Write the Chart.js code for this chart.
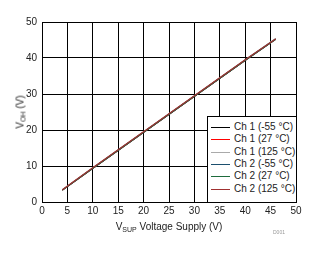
<!DOCTYPE html>
<html>
<head>
<meta charset="utf-8">
<script src="https://cdn.jsdelivr.net/npm/chart.js@4/dist/chart.umd.min.js"></script>
<style>
  body { margin: 0; background: #fff; font-family: "Liberation Sans", Arial, sans-serif; }
  #wrap { position: relative; width: 329px; height: 254px; }
  canvas { position: absolute; left: 0; top: 0; }
  .ttl { position: absolute; font-size: 10px; color: #222; white-space: nowrap; }
  .ttl sub { font-size: 7px; vertical-align: -2px; line-height: 0; }
  #ytitle { left: 20px; top: 112px; transform: translate(-50%, -50%) rotate(-90deg); }
  #xtitle { left: 169px; top: 221px; transform: translateX(-50%); }
  #code { position: absolute; left: 273px; top: 229px; font-size: 5px; color: #999; }
  #legend { position: absolute; left: 207px; top: 116px; width: 88px; height: 85px;
            border: 1px solid #000; background: #fff; font-size: 10px; color: #222; }
  .item { position: absolute; left: 3px; height: 12px; line-height: 12px; }
  .item i { display: block; position: absolute; left: 0; top: 6px; width: 19px; height: 1px; }
  .item span { position: absolute; left: 23px; white-space: nowrap; }
</style>
</head>
<body>
<div id="wrap">
  <canvas id="chart" width="329" height="254"></canvas>
  <div class="ttl" id="ytitle">V<sub>OH</sub> (V)</div>
  <div class="ttl" id="xtitle">V<sub>SUP</sub> Voltage Supply (V)</div>
  <div id="code">D001</div>
  <div id="legend"></div>
</div>
<script>
const supply = [4, 10, 15, 20, 25, 30, 35, 40, 46];

const seriesNames = ['Ch 1 (-55 °C)', 'Ch 1 (27 °C)', 'Ch 1 (125 °C)', 'Ch 2 (-55 °C)', 'Ch 2 (27 °C)', 'Ch 2 (125 °C)'];
const seriesColors = ['#000000', '#ff0000', '#aaaaaa', '#1c4f6e', '#1e6b3c', '#a03030'];

const ch1Cold = [3.3, 9.4, 14.4, 19.4, 24.4, 29.4, 34.4, 39.4, 45.3];
const ch1Room = [3.3, 9.4, 14.4, 19.4, 24.4, 29.4, 34.4, 39.4, 45.3];
const ch1Hot  = [3.4, 9.5, 14.5, 19.5, 24.5, 29.5, 34.5, 39.5, 45.4];
const ch2Cold = [3.3, 9.4, 14.4, 19.4, 24.4, 29.4, 34.4, 39.4, 45.2];
const ch2Room = [3.3, 9.4, 14.4, 19.4, 24.4, 29.4, 34.4, 39.4, 45.2];
const ch2Hot  = [3.4, 9.5, 14.5, 19.5, 24.5, 29.5, 34.5, 39.5, 45.3];

const allSeries = [ch1Cold, ch1Room, ch1Hot, ch2Cold, ch2Room, ch2Hot];

const datasets = allSeries.map((vals, i) => ({
    label: seriesNames[i],
    data: vals.map((v, j) => ({ x: supply[j], y: v })),
    borderColor: seriesColors[i],
    borderWidth: 1.2,
    pointRadius: 0,
    fill: false,
    order: allSeries.length - i   // later series drawn on top
}));

const tickFont = { family: '"Liberation Sans", Arial, sans-serif', size: 10 };

new Chart(document.getElementById('chart'), {
    type: 'line',
    data: { datasets: datasets },
    options: {
        responsive: false,
        animation: false,
        layout: { padding: { top: 22, right: 33, left: 0, bottom: 0 } },
        plugins: { legend: { display: false }, tooltip: { enabled: false } },
        scales: {
            x: {
                type: 'linear', min: 0, max: 50,
                ticks: { stepSize: 5, color: '#222', font: tickFont, padding: 3 },
                grid: { color: '#000', lineWidth: 1, drawTicks: false },
                border: { color: '#000', width: 1 },
                afterFit: (s) => { s.height = 52; }
            },
            y: {
                min: 0, max: 50,
                ticks: { stepSize: 10, color: '#222', font: tickFont, padding: 5 },
                grid: { color: '#000', lineWidth: 1, drawTicks: false },
                border: { color: '#000', width: 1 },
                afterFit: (s) => { s.width = 42; }
            }
        }
    }
});

const legend = document.getElementById('legend');
seriesNames.forEach((name, i) => {
    const row = document.createElement('div');
    row.className = 'item';
    row.style.top = (4 + i * 12.3) + 'px';
    row.innerHTML = '<i style="background:' + seriesColors[i] + '"></i><span>' + name + '</span>';
    legend.appendChild(row);
});
</script>
</body>
</html>
